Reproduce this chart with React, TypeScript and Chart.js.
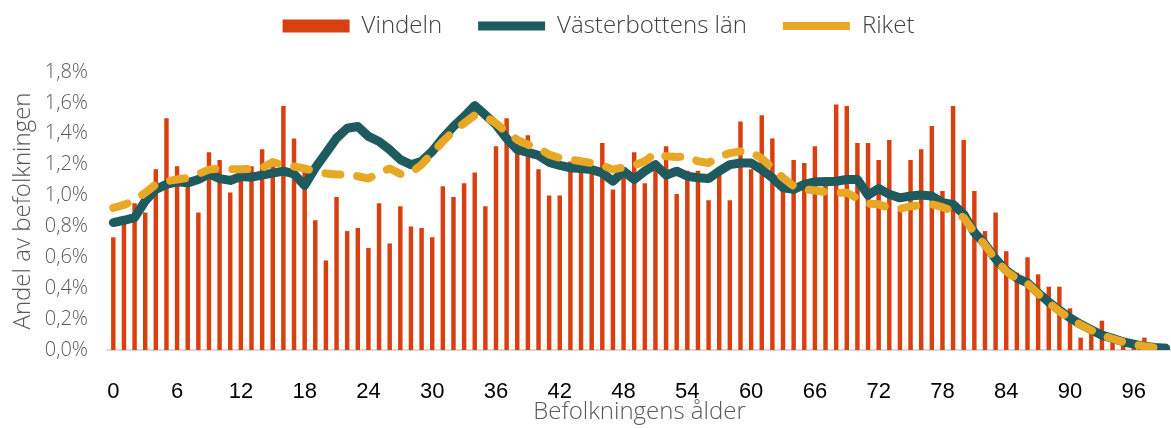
import React, { useEffect, useRef } from "react";
import { Chart, registerables } from "chart.js";

Chart.register(...registerables);

// Categories: age 0..99
const ages: string[] = [
  "0","1","2","3","4","5","6","7","8","9",
  "10","11","12","13","14","15","16","17","18","19",
  "20","21","22","23","24","25","26","27","28","29",
  "30","31","32","33","34","35","36","37","38","39",
  "40","41","42","43","44","45","46","47","48","49",
  "50","51","52","53","54","55","56","57","58","59",
  "60","61","62","63","64","65","66","67","68","69",
  "70","71","72","73","74","75","76","77","78","79",
  "80","81","82","83","84","85","86","87","88","89",
  "90","91","92","93","94","95","96","97","98","99",
];

// Share of population (%) – Vindeln
const vindeln: number[] = [
  0.73, 0.82, 0.95, 0.89, 1.17, 1.50, 1.19, 1.07, 0.89, 1.28,
  1.23, 1.02, 1.12, 1.19, 1.30, 1.19, 1.58, 1.37, 1.16, 0.84,
  0.58, 0.99, 0.77, 0.79, 0.66, 0.95, 0.69, 0.93, 0.80, 0.79,
  0.73, 1.06, 0.99, 1.08, 1.15, 0.93, 1.32, 1.50, 1.35, 1.39,
  1.17, 1.00, 1.00, 1.22, 1.19, 1.17, 1.34, 1.04, 1.17, 1.28,
  1.08, 1.17, 1.32, 1.01, 1.16, 1.16, 0.97, 1.14, 0.97, 1.48,
  1.17, 1.52, 1.37, 1.03, 1.23, 1.21, 1.32, 1.12, 1.59, 1.58,
  1.34, 1.34, 1.23, 1.36, 0.91, 1.23, 1.30, 1.45, 1.03, 1.58,
  1.36, 1.03, 0.77, 0.89, 0.64, 0.50, 0.60, 0.49, 0.41, 0.41,
  0.27, 0.08, 0.12, 0.19, 0.05, 0.04, 0.03, 0.08, 0.03, 0.04,
];

// Share of population (%) – Västerbottens län
const vasterbotten: number[] = [
  0.825, 0.84, 0.857, 0.965, 1.04, 1.072, 1.089, 1.082, 1.104, 1.14,
  1.11, 1.098, 1.123, 1.119, 1.132, 1.145, 1.158, 1.14, 1.065, 1.179,
  1.275, 1.372, 1.436, 1.447, 1.383, 1.35, 1.297, 1.233, 1.20, 1.222,
  1.286, 1.372, 1.447, 1.511, 1.582, 1.522, 1.458, 1.37, 1.297, 1.28,
  1.26, 1.215, 1.195, 1.18, 1.175, 1.168, 1.147, 1.093, 1.158, 1.104,
  1.158, 1.20, 1.132, 1.158, 1.125, 1.115, 1.11, 1.158, 1.20, 1.211,
  1.211, 1.168, 1.115, 1.05, 1.04, 1.072, 1.089, 1.089, 1.093, 1.104,
  1.104, 1.003, 1.046, 1.008, 0.985, 0.997, 1.003, 0.997, 0.954, 0.943,
  0.879, 0.761, 0.686, 0.59, 0.515, 0.465, 0.435, 0.37, 0.31, 0.257,
  0.209, 0.166, 0.131, 0.096, 0.075, 0.053, 0.038, 0.024, 0.016, 0.012,
];

// Share of population (%) – Riket
const riket: number[] = [
  0.92, 0.939, 0.97, 1.018, 1.072, 1.093, 1.104, 1.115, 1.14, 1.168,
  1.175, 1.17, 1.17, 1.172, 1.179, 1.217, 1.196, 1.188, 1.175, 1.158,
  1.143, 1.136, 1.136, 1.125, 1.11, 1.147, 1.175, 1.14, 1.147, 1.20,
  1.275, 1.35, 1.419, 1.468, 1.52, 1.511, 1.468, 1.41, 1.361, 1.329,
  1.307, 1.265, 1.243, 1.233, 1.222, 1.21, 1.196, 1.168, 1.183, 1.196,
  1.222, 1.275, 1.254, 1.25, 1.254, 1.222, 1.211, 1.254, 1.275, 1.286,
  1.28, 1.24, 1.179, 1.115, 1.061, 1.04, 1.033, 1.023, 1.018, 1.018,
  0.982, 0.947, 0.943, 0.92, 0.915, 0.93, 0.937, 0.943, 0.925, 0.90,
  0.857, 0.761, 0.68, 0.585, 0.51, 0.46, 0.43, 0.365, 0.305, 0.25,
  0.205, 0.163, 0.128, 0.095, 0.073, 0.052, 0.036, 0.024, 0.015, 0.011,
];

const seriesNames = ["Vindeln", "Västerbottens län", "Riket"];
const xTickStep = 6;
const yMax = 1.8;
const yStep = 0.2;

const ORANGE = "#d9400f";
const GREEN = "#1f5a5e";
const YELLOW = "#e8a825";
const LIGHT_FONT = "'Open Sans', 'Lato', 'DejaVu Sans', sans-serif";

// Adds empty space below the legend without moving the legend text
const legendSpacing = {
  id: "legendSpacing",
  beforeInit(chart: any) {
    const legend = chart.legend;
    if (!legend) return;
    const origFit = legend.fit;
    legend.fit = function () {
      origFit.call(this);
      this.height += 24;
    };
  },
};

export default function App() {
  const ref = useRef<HTMLCanvasElement>(null);

  useEffect(() => {
    document.body.style.margin = "0";
    const chart = new Chart(ref.current as HTMLCanvasElement, {
      type: "bar",
      data: {
        labels: ages,
        datasets: [
          {
            type: "bar",
            label: seriesNames[0],
            data: vindeln,
            backgroundColor: ORANGE,
            borderWidth: 0,
            barPercentage: 0.42,
            categoryPercentage: 1,
            order: 3,
            pointStyle: "rect",
          } as any,
          {
            type: "line",
            label: seriesNames[1],
            data: vasterbotten,
            borderColor: GREEN,
            backgroundColor: GREEN,
            borderWidth: 9,
            pointRadius: 0,
            borderCapStyle: "round",
            borderJoinStyle: "round",
            tension: 0,
            order: 2,
            pointStyle: "line",
          } as any,
          {
            type: "line",
            label: seriesNames[2],
            data: riket,
            borderColor: YELLOW,
            backgroundColor: YELLOW,
            borderWidth: 8,
            borderDash: [15, 17],
            pointRadius: 0,
            borderCapStyle: "round",
            borderJoinStyle: "round",
            tension: 0,
            order: 1,
            pointStyle: "line",
          } as any,
        ],
      },
      options: {
        responsive: true,
        maintainAspectRatio: false,
        animation: false,
        layout: { padding: { top: -22, left: 26, right: 0, bottom: 0 } },
        plugins: {
          tooltip: { enabled: false },
          legend: {
            position: "top",
            labels: {
              usePointStyle: true,
              pointStyleWidth: 67,
              boxHeight: 13,
              padding: 36,
              color: "#404040",
              font: { family: LIGHT_FONT, size: 24, weight: "300" as any },
              sort: (a: any, b: any) => a.datasetIndex - b.datasetIndex,
            },
          },
        },
        scales: {
          x: {
            offset: true,
            grid: { display: false, drawTicks: false },
            border: { display: true, color: "#d9d9d9", width: 2 },
            afterFit: (scale: any) => {
              scale.paddingLeft = 0;
              scale.paddingRight = 0;
              scale.height = 78;
            },
            ticks: {
              autoSkip: false,
              maxRotation: 0,
              minRotation: 0,
              padding: 29,
              color: "#000000",
              font: { family: "'Liberation Sans', Arial, sans-serif", size: 22 },
              callback: (_v: any, i: number) => (i % xTickStep === 0 ? ages[i] : ""),
            },
            title: {
              display: true,
              text: "Befolkningens ålder",
              color: "#595959",
              font: { family: LIGHT_FONT, size: 24, weight: "300" as any },
              padding: { top: 0, bottom: 1.5 },
            },
          },
          y: {
            min: 0,
            max: yMax,
            grid: { display: false, drawTicks: false },
            border: { display: false },
            afterFit: (scale: any) => {
              scale.width = 82;
            },
            ticks: {
              stepSize: yStep,
              padding: 20,
              color: "#595959",
              font: { family: LIGHT_FONT, size: 20, weight: "300" as any },
              callback: (v: any) => Number(v).toFixed(1).replace(".", ",") + "%",
            },
            title: {
              display: true,
              text: "Andel av befolkningen",
              color: "#595959",
              font: { family: LIGHT_FONT, size: 24, weight: "300" as any },
              padding: { top: -17, bottom: 0 },
            },
          },
        },
      },
      plugins: [legendSpacing],
    });
    return () => chart.destroy();
  }, []);

  return (
    <div style={{ width: 1171, height: 428, position: "relative" }}>
      <canvas ref={ref} />
    </div>
  );
}
